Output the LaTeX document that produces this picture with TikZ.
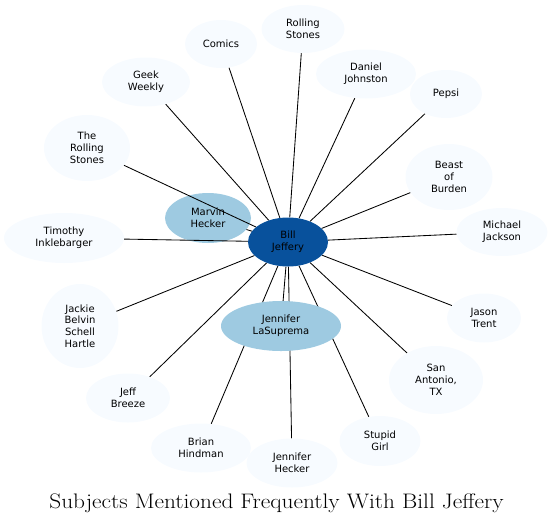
\documentclass[tikz,border=0pt]{standalone}
\usepackage{fontspec}
\newfontfamily\labelfont{DejaVu Sans}
\usetikzlibrary{shapes.geometric}
\pgfdeclarelayer{bottom}
\pgfdeclarelayer{edges}
\pgfsetlayers{bottom,edges,main}
\definecolor{outerfill}{HTML}{F7FBFF}
\definecolor{midfill}{HTML}{9ECAE1}
\definecolor{hubfill}{HTML}{08519C}
\tikzset{
  bubble/.style={ellipse, inner sep=0pt, draw=none, align=center,
    font=\labelfont\fontsize{10}{11.8}\selectfont, text=black},
  outer/.style={bubble, fill=outerfill},
  mid/.style={bubble, fill=midfill},
  hub/.style={bubble, fill=hubfill},
  link/.style={draw=black, line width=0.85pt},
  sz/.style 2 args={minimum width=#1pt, minimum height=#2pt}
}
\begin{document}
\begin{tikzpicture}[x=1pt,y=-1pt]
\useasboundingbox (0,0) rectangle (553,525);
\begin{pgfonlayer}{bottom}
\node[mid, sz={86}{50}] (marvin) at (208,218) {Marvin\\Hecker};
\end{pgfonlayer}
\node[hub, sz={80}{49}] (bill) at (288,242) {Bill\\Jeffery};
\node[mid, sz={120}{50}] (lasup) at (281,326) {Jennifer\\LaSuprema};
\node[outer, sz={72}{48}] (comics) at (221,44) {Comics};
\node[outer, sz={83}{48}] (rstones) at (303,29) {Rolling\\Stones};
\node[outer, sz={88}{49}] (geek) at (146,82) {Geek\\Weekly};
\node[outer, sz={100}{49}] (daniel) at (366,74) {Daniel\\Johnston};
\node[outer, sz={72}{48}] (pepsi) at (446,94) {Pepsi};
\node[outer, sz={86}{66}] (therstones) at (87,148) {The\\Rolling\\Stones};
\node[outer, sz={87}{66}] (beast) at (449,177) {Beast\\of\\Burden};
\node[outer, sz={120}{50}] (timothy) at (64,238) {Timothy\\Inklebarger};
\node[outer, sz={91}{48}] (michael) at (502,232) {Michael\\Jackson};
\node[outer, sz={77}{84}] (jackie) at (80,326) {Jackie\\Belvin\\Schell\\Hartle};
\node[outer, sz={74}{49}] (jason) at (484,318) {Jason\\Trent};
\node[outer, sz={94}{68}] (sanantonio) at (436,380) {San\\Antonio,\\TX};
\node[outer, sz={84}{49}] (jeff) at (128,398) {Jeff\\Breeze};
\node[outer, sz={100}{49}] (brian) at (201,448) {Brian\\Hindman};
\node[outer, sz={81}{50}] (stupid) at (380,441) {Stupid\\Girl};
\node[outer, sz={91}{49}] (jhecker) at (292,463) {Jennifer\\Hecker};
\begin{pgfonlayer}{edges}
\foreach \t in {marvin,comics,rstones,geek,daniel,pepsi,therstones,beast,timothy,michael,jackie,jason,sanantonio,jeff,brian,stupid,jhecker,lasup}
  \draw[link] (bill) -- (\t);
\end{pgfonlayer}
\node[anchor=base, inner sep=0pt] (title) at (276.5,508.5)
  {\scalebox{1.11}[1]{\fontsize{21}{24}\selectfont Subjects Mentioned Frequently With Bill Jeffery}};
\end{tikzpicture}
\end{document}
